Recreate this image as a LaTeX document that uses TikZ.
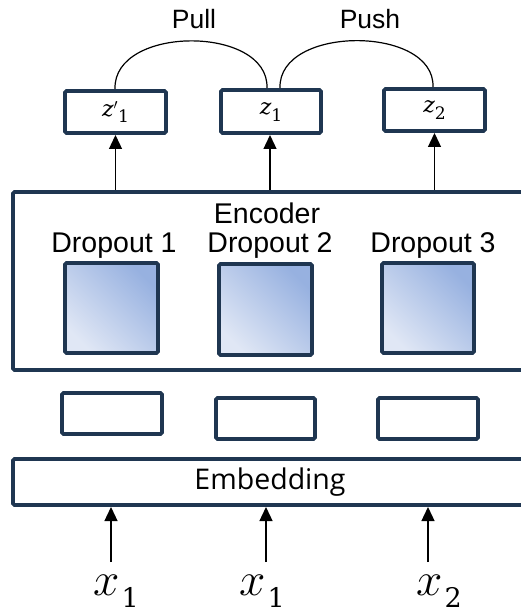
\documentclass[tikz,border=0pt]{standalone}
\usepackage{fontspec}
\usepackage{graphicx}
\setmainfont{Liberation Sans}
\newfontfamily\embfont{Open Sans}
\newfontfamily\mfont{DejaVu Serif}
\usetikzlibrary{arrows.meta}
\definecolor{navy}{HTML}{1F3651}
\definecolor{gdark}{HTML}{97B1E0}
\definecolor{glight}{HTML}{E0E7F5}
\newcommand\mvar[2]{{\mfont\itshape #1}\raisebox{-0.28em}{\mfont\fontsize{0.78em}{1em}\selectfont #2}}
\newcommand\xvar[1]{{\fontsize{24}{26}\selectfont\scalebox{1.9}{$x$}}\kern2pt\raisebox{-12pt}{\mfont\fontsize{27}{30}\selectfont #1}}
\tikzset{
  box/.style={draw=navy, line width=3.8pt, rounded corners=1.5pt, fill=white},
  dbox/.style={draw=navy, line width=3.8pt, rounded corners=1.5pt, left color=glight, right color=gdark, shading angle=135},
  arr/.style={line width=1.3pt, -{Triangle[width=13pt,length=14pt]}},
  lab/.style={inner sep=0pt, font=\fontsize{26.5}{30}\selectfont},
  biglab/.style={inner sep=0pt, font=\fontsize{28.5}{32}\selectfont},
  mth/.style={inner sep=0pt, font=\fontsize{22}{26}\selectfont},
  xin/.style={inner sep=0pt, anchor=base west},
}
\begin{document}
\begin{tikzpicture}[x=1pt,y=-1pt]
\useasboundingbox (0,0) rectangle (521,612);
% z boxes
\draw[box] (65,91) rectangle (166,133);
\draw[box] (221,90) rectangle (321,133);
\draw[box] (384,89) rectangle (485,131);
\node[mth] (zp) at (115.5,112) {\mvar{z$'$}{1}};
\node[mth] (z1) at (271,112) {\mvar{z}{1}};
\node[mth] (z2) at (434.5,110) {\mvar{z}{2}};
\coordinate (zpb) at (115.5,135);
\coordinate (z1b) at (270,135);
\coordinate (z2b) at (434.5,133);
% arcs
\coordinate (a1) at (115,89);
\coordinate (a2) at (267,88);
\coordinate (a3) at (280,88);
\coordinate (a4) at (433,87);
\draw[line width=1.2pt] (a1) .. controls (113,25) and (269,25) .. (a2);
\draw[line width=1.2pt] (a3) .. controls (278,25) and (435,25) .. (a4);
\node[lab] (pull) at (194,19) {Pull};
\node[lab] (push) at (370,19) {Push};
% encoder
\draw[box] (13,192) rectangle (540,370);
\coordinate (e1) at (115.5,190);
\coordinate (e2) at (270,190);
\coordinate (e3) at (434.5,190);
\draw[arr] (e1) -- (zpb);
\draw[arr] (e2) -- (z1b);
\draw[arr] (e3) -- (z2b);
\node[biglab] (enc) at (267,213) {Encoder};
\node[biglab] (d1) at (114,246) {Dropout 1};
\node[biglab] (d2) at (270,246) {Dropout 2};
\node[biglab] (d3) at (433,246) {Dropout 3};
\draw[dbox] (65,263) rectangle (158,353);
\draw[dbox] (219,264) rectangle (312,355);
\draw[dbox] (382,263) rectangle (474,353);
% small boxes
\draw[box] (62,393) rectangle (162,434);
\draw[box] (216,398) rectangle (315,439);
\draw[box] (378,398) rectangle (478,439);
% embedding
\draw[box] (13,459) rectangle (540,505);
\node[inner sep=0pt, font=\embfont\fontsize{28.5}{32}\selectfont] (emb) at (270,482) {Embedding};
\coordinate (b1) at (111,507);
\coordinate (b2) at (266,507);
\coordinate (b3) at (428,507);
\node[xin] (x1) at (93,595) {\xvar{1}};
\node[xin] (x1b) at (239,595) {\xvar{1}};
\node[xin] (x2) at (416,595) {\xvar{2}};
\coordinate (s1) at (111,562);
\coordinate (s2) at (266,562);
\coordinate (s3) at (428,562);
\draw[arr] (s1) -- (b1);
\draw[arr] (s2) -- (b2);
\draw[arr] (s3) -- (b3);
\end{tikzpicture}
\end{document}
